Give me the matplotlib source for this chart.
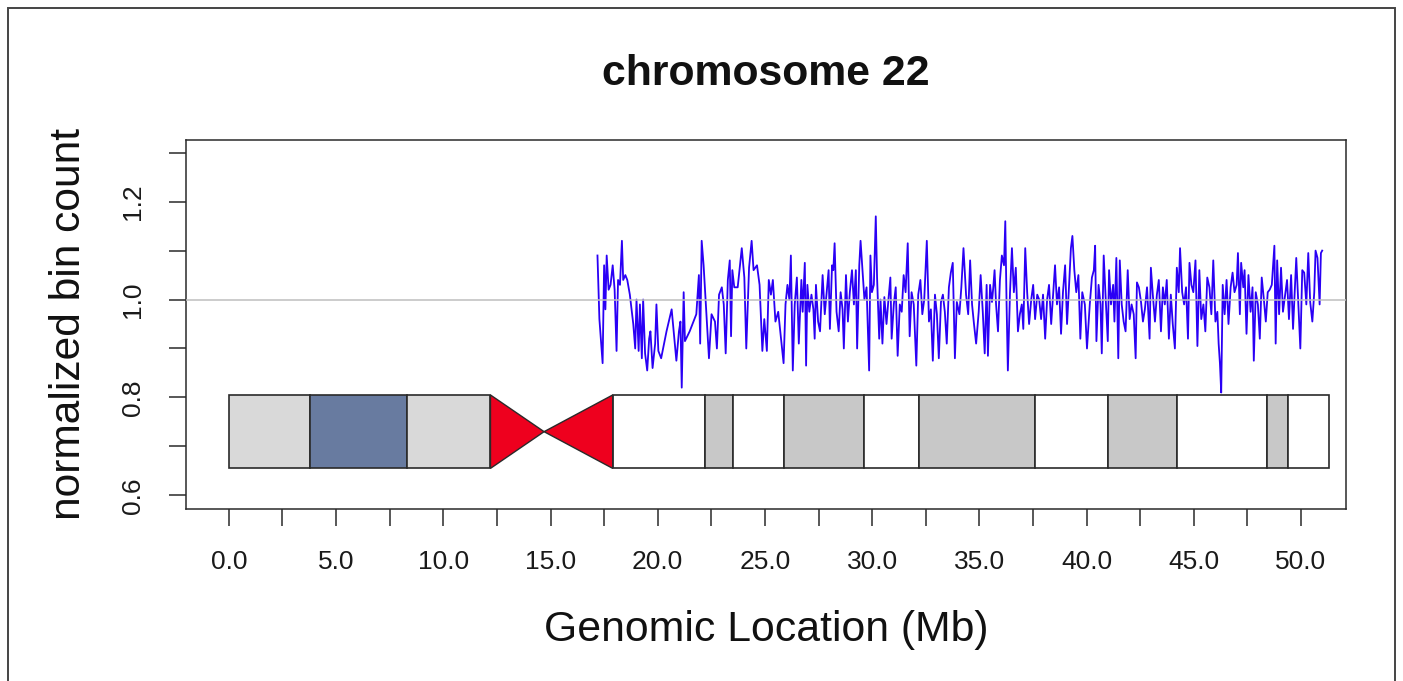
import matplotlib
matplotlib.use('Agg')
import matplotlib.pyplot as plt
from matplotlib.patches import Rectangle, Polygon

plt.rcParams['font.family'] = ['Liberation Sans', 'DejaVu Sans']

# =========== DATA =============
# cytobands of chromosome 22 (Mb)
band_start = [0.0, 3.8, 8.3, 17.9, 22.2, 23.5, 25.9, 29.6, 32.2, 37.6, 41.0, 44.2, 48.4, 49.4]
band_end = [3.8, 8.3, 12.2, 22.2, 23.5, 25.9, 29.6, 32.2, 37.6, 41.0, 44.2, 48.4, 49.4, 51.3]
band_stain = ['gvar', 'stalk', 'gvar', 'gneg', 'gpos', 'gneg', 'gpos', 'gneg', 'gpos',
              'gneg', 'gpos', 'gneg', 'gpos', 'gneg']
acen_p = (12.2, 14.7)
acen_q = (14.7, 17.9)

# normalized bin counts along the chromosome
bin_pos = [
    # 17 - 22.8
    17.19, 17.28, 17.43, 17.50, 17.56, 17.62, 17.71, 17.80, 17.90, 17.99, 18.08, 18.15, 18.24,
    18.33, 18.39, 18.49, 18.58, 18.70, 18.86, 18.95, 19.01, 19.11, 19.17, 19.26, 19.32, 19.41,
    19.51, 19.60, 19.66, 19.76, 19.88, 19.94, 20.03, 20.16, 20.41, 20.65, 20.87, 20.99, 21.06,
    21.12, 21.21, 21.27, 21.49, 21.80, 21.92, 21.98, 22.05, 22.14, 22.26, 22.39, 22.51, 22.67,
    22.76,
    # 22.8 - 28.5
    22.86, 22.99, 23.08, 23.17, 23.27, 23.36, 23.42, 23.48, 23.57, 23.73, 23.92, 24.04, 24.13,
    24.26, 24.38, 24.47, 24.63, 24.75, 24.88, 24.97, 25.09, 25.18, 25.28, 25.37, 25.49, 25.62,
    25.87, 25.96, 26.05, 26.14, 26.21, 26.30, 26.39, 26.49, 26.58, 26.70, 26.76, 26.86, 26.92,
    26.98, 27.07, 27.17, 27.26, 27.32, 27.38, 27.48, 27.57, 27.69, 27.79, 27.88, 27.97, 28.03,
    28.13, 28.19, 28.25, 28.34, 28.44, 28.53,
    # 28.5 - 34.3
    28.62, 28.68, 28.78, 28.87, 28.96, 29.06, 29.15, 29.24, 29.30, 29.40, 29.46, 29.55, 29.64,
    29.74, 29.86, 29.92, 29.99, 30.08, 30.17, 30.23, 30.33, 30.39, 30.48, 30.57, 30.67, 30.76,
    30.85, 30.91, 31.01, 31.10, 31.19, 31.29, 31.38, 31.47, 31.56, 31.66, 31.75, 31.84, 31.94,
    32.06, 32.15, 32.25, 32.34, 32.43, 32.55, 32.65, 32.74, 32.83, 32.93, 33.02, 33.11, 33.21,
    33.30, 33.39, 33.48, 33.58, 33.67, 33.76, 33.86, 33.95, 34.07, 34.16, 34.26,
    # 34.3 - 40
    34.38, 34.48, 34.57, 34.66, 34.75, 34.85, 34.97, 35.06, 35.16, 35.25, 35.34, 35.40, 35.50,
    35.59, 35.65, 35.71, 35.78, 35.87, 35.96, 36.05, 36.15, 36.21, 36.27, 36.33, 36.43, 36.52,
    36.61, 36.70, 36.80, 36.89, 36.98, 37.05, 37.14, 37.23, 37.32, 37.42, 37.51, 37.60, 37.70,
    37.79, 37.88, 37.97, 38.07, 38.16, 38.25, 38.35, 38.44, 38.53, 38.62, 38.72, 38.81, 38.90,
    39.00, 39.09, 39.18, 39.27, 39.34, 39.43, 39.52, 39.62, 39.71, 39.80, 39.92, 40.02,
    # 40 - 45.8
    40.15, 40.25, 40.34, 40.40, 40.46, 40.56, 40.65, 40.71, 40.80, 40.90, 40.99, 41.05, 41.14,
    41.24, 41.30, 41.39, 41.48, 41.55, 41.64, 41.73, 41.82, 41.92, 42.01, 42.10, 42.20, 42.29,
    42.35, 42.44, 42.54, 42.63, 42.72, 42.82, 42.94, 43.00, 43.09, 43.19, 43.28, 43.37, 43.47,
    43.56, 43.65, 43.74, 43.84, 43.93, 44.02, 44.12, 44.21, 44.30, 44.36, 44.46, 44.55, 44.64,
    44.73, 44.80, 44.89, 44.98, 45.08, 45.17, 45.26, 45.35, 45.45, 45.54, 45.63, 45.73, 45.82,
    # 45.8 - 51
    45.91, 46.01, 46.10, 46.16, 46.22, 46.28, 46.35, 46.44, 46.53, 46.62, 46.72, 46.81, 46.90,
    47.00, 47.06, 47.15, 47.21, 47.31, 47.37, 47.46, 47.55, 47.65, 47.74, 47.80, 47.89, 47.99,
    48.08, 48.17, 48.27, 48.36, 48.45, 48.54, 48.64, 48.76, 48.82, 48.89, 48.98, 49.07, 49.16,
    49.26, 49.35, 49.44, 49.54, 49.63, 49.72, 49.78, 49.88, 49.97, 50.06, 50.15, 50.25, 50.34,
    50.43, 50.53, 50.62, 50.68, 50.77, 50.87, 50.93, 50.99,
]
bin_ratio = [
    1.09, 0.96, 0.87, 1.07, 0.98, 1.09, 1.02, 1.03, 1.07, 1.02, 0.895, 1.04, 1.03,
    1.12, 1.04, 1.05, 1.04, 1.01, 0.95, 0.90, 1.00, 0.895, 0.99, 0.88, 1.00, 0.89,
    0.855, 0.92, 0.935, 0.86, 0.91, 0.99, 0.895, 0.88, 0.935, 0.98, 0.875, 0.935, 0.955,
    0.82, 1.015, 0.915, 0.935, 0.97, 1.05, 0.91, 1.12, 1.07, 0.98, 0.88, 0.97, 0.955,
    0.90,
    1.01, 1.025, 0.99, 0.89, 1.04, 1.08, 0.925, 1.06, 1.025, 1.025, 1.105, 1.045, 0.90,
    1.065, 1.12, 1.06, 1.07, 1.03, 0.895, 0.96, 0.895, 1.04, 1.01, 1.04, 0.955, 0.975,
    0.87, 0.99, 1.03, 1.0, 1.09, 0.855, 0.99, 1.045, 0.91, 1.04, 0.975, 1.075, 0.865,
    1.03, 0.975, 1.01, 0.98, 0.92, 1.03, 0.955, 0.935, 1.05, 0.97, 1.015, 1.06, 0.94,
    1.07, 1.06, 1.115, 0.975, 0.935, 1.015,
    0.98, 0.90, 1.05, 0.955, 1.015, 1.06, 0.99, 1.06, 0.90, 1.07, 1.12, 1.06, 1.0,
    1.025, 0.855, 1.09, 1.015, 1.03, 1.17, 1.045, 0.92, 1.0, 0.91, 1.005, 0.95, 1.0,
    1.045, 0.92, 0.99, 1.025, 0.885, 0.99, 0.975, 1.05, 1.015, 1.115, 0.925, 1.015, 0.99,
    0.865, 1.01, 1.04, 0.97, 1.0, 1.12, 0.955, 0.98, 0.875, 1.01, 0.97, 0.88, 0.995,
    1.01, 0.975, 0.91, 1.025, 1.055, 1.075, 0.88, 0.995, 0.97, 1.025, 1.105,
    1.01, 0.97, 1.08, 0.99, 0.95, 0.91, 0.975, 1.05, 0.975, 0.89, 1.03, 0.885, 1.03,
    0.995, 1.025, 1.06, 0.99, 0.935, 1.04, 1.09, 1.07, 1.16, 0.99, 0.855, 1.015, 1.105,
    1.015, 1.065, 0.935, 0.97, 0.99, 0.94, 1.105, 1.015, 0.95, 1.0, 1.03, 0.96, 1.01,
    1.0, 0.96, 1.01, 0.92, 1.0, 1.03, 0.95, 1.01, 1.07, 0.99, 1.025, 0.93, 1.015,
    1.07, 0.95, 1.025, 1.105, 1.13, 1.06, 1.015, 1.05, 0.92, 1.015, 0.99, 0.90,
    0.99, 1.045, 1.06, 1.11, 0.915, 1.03, 0.99, 0.89, 1.09, 0.995, 0.915, 1.06, 0.99,
    1.03, 0.955, 1.085, 0.88, 1.08, 0.99, 0.955, 0.935, 1.06, 0.96, 0.99, 0.97, 0.88,
    1.035, 1.025, 0.995, 0.955, 0.98, 1.025, 0.92, 1.065, 1.01, 0.955, 1.01, 1.04, 0.935,
    1.025, 0.99, 1.04, 0.92, 1.01, 0.95, 0.90, 1.065, 1.015, 1.105, 1.015, 0.99, 1.025,
    0.92, 1.075, 1.03, 1.015, 1.08, 0.905, 1.06, 0.96, 0.99, 0.935, 1.045, 1.025, 0.97,
    1.08, 0.955, 0.975, 0.91, 0.87, 0.81, 1.03, 0.97, 1.04, 0.95, 1.025, 1.055, 1.015,
    1.03, 1.095, 0.97, 1.075, 1.025, 1.06, 0.93, 1.05, 0.975, 1.025, 0.875, 1.015, 0.99,
    0.92, 1.045, 1.0, 0.955, 1.015, 1.02, 1.03, 1.11, 0.91, 1.08, 0.97, 1.065, 0.975,
    1.01, 1.04, 0.96, 1.05, 0.94, 1.025, 1.085, 0.99, 0.90, 1.06, 1.055, 0.99, 1.095,
    0.995, 0.955, 1.015, 1.10, 1.085, 0.99, 1.095, 1.10,
]
assert len(bin_pos) == len(bin_ratio)

x_ticks = [0, 5, 10, 15, 20, 25, 30, 35, 40, 45, 50]
x_minor = [2.5, 7.5, 12.5, 17.5, 22.5, 27.5, 32.5, 37.5, 42.5, 47.5]
y_ticks = [0.6, 0.8, 1.0, 1.2]
y_minor = [0.7, 0.9, 1.1, 1.3]

stain_col = {'gneg': '#ffffff', 'gpos': '#c8c8c8', 'gvar': '#d9d9d9', 'stalk': '#687ba0'}
acen_col = '#ee001e'
edge = '#2a2a2a'
ideo_lo, ideo_hi = 0.655, 0.805

# =========== PLOT =============
W, H = 1403, 681
fig = plt.figure(figsize=(W / 100, H / 100), dpi=100)
ax = fig.add_axes([186 / W, 1 - 509 / H, (1346 - 186) / W, (509 - 140) / H])

ax.plot(bin_pos, bin_ratio, color='#2a00f5', lw=1.3, zorder=2)
ax.axhline(1.0, color='#bebebe', lw=1.1, zorder=3)

# ideogram
mid = (ideo_lo + ideo_hi) / 2
for s, e, st in zip(band_start, band_end, band_stain):
    ax.add_patch(Rectangle((s, ideo_lo), e - s, ideo_hi - ideo_lo, facecolor=stain_col[st],
                           edgecolor=edge, lw=1.2, zorder=4))
ax.add_patch(Polygon([(acen_p[0], ideo_hi), (acen_p[0], ideo_lo), (acen_p[1], mid)],
                     closed=True, facecolor=acen_col, edgecolor=edge, lw=1.0, zorder=4))
ax.add_patch(Polygon([(acen_q[1], ideo_hi), (acen_q[1], ideo_lo), (acen_q[0], mid)],
                     closed=True, facecolor=acen_col, edgecolor=edge, lw=1.0, zorder=4))

ax.set_xlim(-2.0, 52.1)
ax.set_ylim(0.572, 1.326)

ax.set_xticks(x_ticks)
ax.set_xticklabels([f'{v:.1f}' for v in x_ticks])
ax.set_xticks(x_minor, minor=True)
ax.set_yticks(y_ticks)
ax.set_yticklabels([f'{v:.1f}' for v in y_ticks], rotation=90, va='center')
ax.set_yticks(y_minor, minor=True)

for which in ('major', 'minor'):
    ax.tick_params(axis='both', which=which, direction='out', length=12.2, width=1.1,
                   color=edge)
ax.tick_params(axis='x', which='major', pad=17, labelsize=19, labelcolor='#1a1a1a')
ax.tick_params(axis='y', which='major', pad=17, labelsize=19, labelcolor='#1a1a1a')

for sp in ax.spines.values():
    sp.set_color(edge)
    sp.set_linewidth(1.1)

fig.text(766 / W, 1 - 85 / H, 'chromosome 22', ha='center', va='baseline',
         fontsize=30.8, fontweight='bold', color='#111111')
fig.text(766 / W, 1 - 641 / H, 'Genomic Location (Mb)', ha='center', va='baseline',
         fontsize=30.8, color='#111111')
fig.text(80.5 / W, 1 - 324 / H, 'normalized bin count', ha='center', va='baseline',
         rotation=90, rotation_mode='anchor', fontsize=30.6, color='#111111')

# outer frame
fig.add_artist(Rectangle((8 / W, -0.05), (1395 - 8) / W, 1.05 - 8 / H,
                         transform=fig.transFigure, fill=False, edgecolor='#444444', lw=1.4))

fig.savefig('out.png', dpi=100)
